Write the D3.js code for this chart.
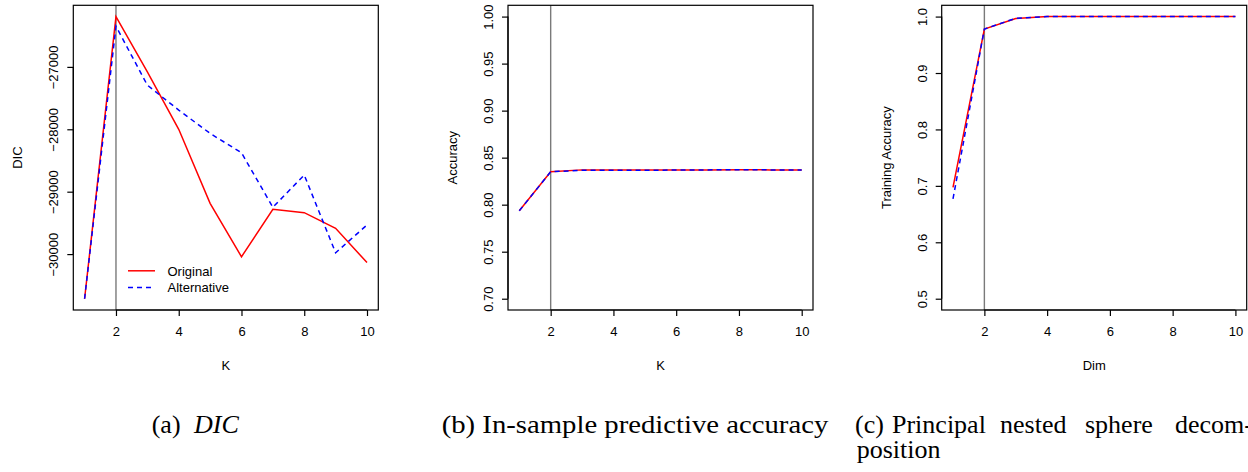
<!DOCTYPE html>
<html>
<head>
<meta charset="utf-8">
<script src="https://cdn.jsdelivr.net/npm/d3@7"></script>
<style>
  html, body { margin: 0; padding: 0; background: #fff; }
  svg { display: block; }
</style>
</head>
<body>
<svg id="chart" width="1248" height="472"></svg>
<script>
// ---------- data ----------
const kValues = [1, 2, 3, 4, 5, 6, 7, 8, 9, 10];
const xTicks = [2, 4, 6, 8, 10];

const dicOriginal    = [-30715, -26194, -27080, -28000, -29186, -30043, -29282, -29336, -29587, -30136];
const dicAlternative = [-30715, -26349, -27293, -27693, -28066, -28376, -29250, -28733, -29979, -29533];
const dicTicks = [-30000, -29000, -28000, -27000];

const accOriginal    = [0.7935, 0.8350, 0.8370, 0.8368, 0.8368, 0.8368, 0.8370, 0.8372, 0.8370, 0.8370];
const accAlternative = [0.7935, 0.8350, 0.8365, 0.8366, 0.8366, 0.8368, 0.8370, 0.8371, 0.8370, 0.8370];
const accTicks = [0.70, 0.75, 0.80, 0.85, 0.90, 0.95, 1.00];
const accLimits = [0.70, 1.00];

const pnsOriginal    = [0.6975, 0.978, 0.9965, 1.0, 1.0, 1.0, 1.0, 1.0, 1.0, 1.0];
const pnsAlternative = [0.677, 0.978, 0.997, 1.0, 1.0, 1.0, 1.0, 1.0, 1.0, 1.0];
const pnsTicks = [0.5, 0.6, 0.7, 0.8, 0.9, 1.0];
const pnsLimits = [0.5, 1.0];

const legendLabels = ["Original", "Alternative"];
const selectedK = 2;

// ---------- drawing ----------
const svg = d3.select("#chart");
const sansFont = "'Liberation Sans', Arial, Helvetica, sans-serif";
const serifFont = "'Liberation Serif', 'Times New Roman', serif";
const RED = "#ff0000", BLUE = "#0000ff";

function extend(lims) {
  const r = lims[1] - lims[0];
  return [lims[0] - 0.04 * r, lims[1] + 0.04 * r];
}

function panel(opts) {
  const left = opts.left, width = 305, top = 5.3, bottom = 310;
  const g = svg.append("g");
  const x = d3.scaleLinear().domain(extend(d3.extent(kValues))).range([left, left + width]);
  const y = d3.scaleLinear().domain(extend(opts.limits)).range([bottom, top]);

  // reference vertical line
  g.append("line")
    .attr("x1", x(selectedK)).attr("x2", x(selectedK))
    .attr("y1", top).attr("y2", bottom)
    .attr("stroke", "#7a7a7a").attr("stroke-width", 1.4);

  const line = d3.line().x((d, i) => x(kValues[i])).y(d => y(d));
  g.append("path").datum(opts.orig)
    .attr("d", line).attr("fill", "none")
    .attr("stroke", RED).attr("stroke-width", 1.5);
  g.append("path").datum(opts.alt)
    .attr("d", line).attr("fill", "none")
    .attr("stroke", BLUE).attr("stroke-width", 1.5)
    .attr("stroke-dasharray", "5,4");

  // box
  g.append("rect")
    .attr("x", left).attr("y", top)
    .attr("width", width).attr("height", bottom - top)
    .attr("fill", "none").attr("stroke", "#000").attr("stroke-width", 1.2);

  // x axis
  const xa = g.append("g").attr("transform", `translate(0,${bottom})`)
    .call(d3.axisBottom(x).tickValues(xTicks).tickSize(6).tickPadding(0).tickFormat(d3.format("d")));
  xa.select(".domain").attr("d", `M${x(xTicks[0])},0H${x(xTicks[xTicks.length - 1])}`)
    .attr("stroke-width", 1.2);
  xa.selectAll(".tick line").attr("stroke-width", 1.2);
  xa.selectAll(".tick text").attr("y", 25.5).attr("dy", null)
    .attr("font-family", sansFont).attr("font-size", 13).attr("fill", "#000");

  // y axis
  const ya = g.append("g").attr("transform", `translate(${left},0)`)
    .call(d3.axisLeft(y).tickValues(opts.ticks).tickSize(6).tickFormat(opts.fmt));
  ya.select(".domain").attr("d", `M0,${y(opts.ticks[0])}V${y(opts.ticks[opts.ticks.length - 1])}`)
    .attr("stroke-width", 1.2);
  ya.selectAll(".tick line").attr("stroke-width", 1.2);
  ya.selectAll(".tick text")
    .attr("x", null).attr("dy", null).attr("text-anchor", "middle")
    .attr("transform", "translate(-15,0) rotate(-90)")
    .attr("font-family", sansFont).attr("font-size", 13).attr("fill", "#000");

  // axis titles
  g.append("text").attr("x", left + width / 2).attr("y", bottom + 60)
    .attr("text-anchor", "middle").attr("font-family", sansFont).attr("font-size", 13)
    .text(opts.xlab);
  g.append("text")
    .attr("transform", `translate(${left - 51},${(top + bottom) / 2}) rotate(-90)`)
    .attr("text-anchor", "middle").attr("font-family", sansFont).attr("font-size", 13)
    .text(opts.ylab);

  if (opts.legend) {
    const lg = g.append("g");
    const rows = [
      { label: legendLabels[0], color: RED, dash: null, yy: 270.8 },
      { label: legendLabels[1], color: BLUE, dash: "5,4", yy: 287.6 }
    ];
    rows.forEach(r => {
      lg.append("line").attr("x1", 128).attr("x2", 155).attr("y1", r.yy).attr("y2", r.yy)
        .attr("stroke", r.color).attr("stroke-width", 1.5)
        .attr("stroke-dasharray", r.dash);
      lg.append("text").attr("x", 167.5).attr("y", r.yy + 4.7)
        .attr("font-family", sansFont).attr("font-size", 13).text(r.label);
    });
  }
}

const minus = d => d3.format("d")(d).replace("-", "\u2212");

panel({ left: 73.3, orig: dicOriginal, alt: dicAlternative,
  limits: d3.extent(dicOriginal.concat(dicAlternative)),
  ticks: dicTicks, fmt: minus, xlab: "K", ylab: "DIC", legend: true });
panel({ left: 508, orig: accOriginal, alt: accAlternative,
  limits: accLimits, ticks: accTicks, fmt: d3.format(".2f"), xlab: "K", ylab: "Accuracy" });
panel({ left: 941.7, orig: pnsOriginal, alt: pnsAlternative,
  limits: pnsLimits, ticks: pnsTicks, fmt: d3.format(".1f"), xlab: "Dim", ylab: "Training Accuracy" });

// ---------- captions (LaTeX-like subcaptions) ----------
function caption(words, baseline, totalWidth) {
  const t = svg.append("text").attr("y", baseline)
    .attr("font-family", serifFont).attr("font-size", 26).attr("fill", "#000");
  if (totalWidth) t.attr("textLength", totalWidth).attr("lengthAdjust", "spacingAndGlyphs");
  words.forEach(w => {
    t.append("tspan").attr("x", w.x).attr("y", baseline)
      .attr("font-style", w.italic ? "italic" : null)
      .text(w.text);
  });
}
caption([{ text: "(a)", x: 151.7 }, { text: "DIC", x: 194, italic: true }], 433.3);
svg.append("text").attr("x", 441.7).attr("y", 433.3)
  .attr("font-family", serifFont).attr("font-size", 26).attr("fill", "#000")
  .attr("textLength", 386.6).attr("lengthAdjust", "spacingAndGlyphs")
  .text("(b) In-sample predictive accuracy");
caption([{ text: "(c)", x: 855 }, { text: "Principal", x: 892 },
         { text: "nested", x: 1000 }, { text: "sphere", x: 1085 },
         { text: "decom-", x: 1175 }], 433.3);
caption([{ text: "position", x: 856.7 }], 458.3);
</script>
</body>
</html>
